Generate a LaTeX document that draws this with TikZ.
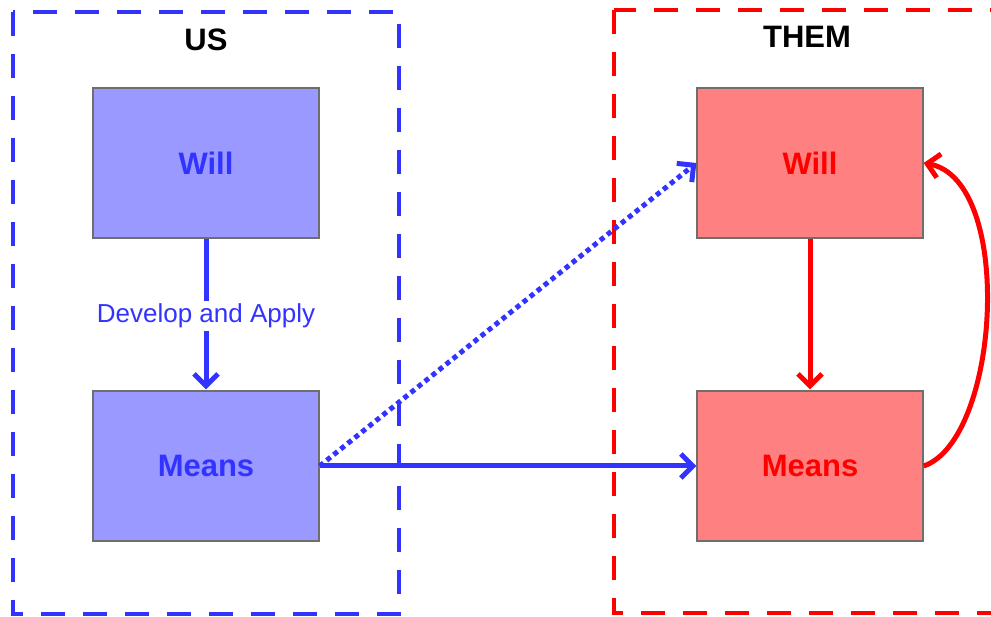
\documentclass[tikz,border=0pt]{standalone}
\usepackage{fontspec}
\setmainfont{Liberation Sans}
\usetikzlibrary{arrows.meta}

\definecolor{usblue}{RGB}{51,51,255}
\definecolor{usfill}{RGB}{153,153,255}
\definecolor{themred}{RGB}{255,0,0}
\definecolor{themfill}{RGB}{255,128,128}
\definecolor{boxedge}{RGB}{110,110,110}

\tikzset{
  x=1pt, y=-1pt,
  side/.style={line width=4.5pt, dash pattern=on 24pt off 18pt},
  title/.style={font=\bfseries\fontsize{31}{31}\selectfont, text=black},
  block/.style={draw=boxedge, line width=1.3pt, minimum width=226pt,
                minimum height=150pt, inner sep=0pt,
                font=\bfseries\fontsize{31}{31}\selectfont},
  usblock/.style={block, fill=usfill, text=usblue},
  themblock/.style={block, fill=themfill, text=themred},
  tip/.style={-{Straight Barb[length=12pt, width=24pt]}},
  link/.style={tip, line width=5pt},
}

\begin{document}
\begin{tikzpicture}
\useasboundingbox (0,0) rectangle (991,617);

% the two sides
\draw[side, usblue] (13,12) rectangle (399,614);
\draw[side, themred] (614,10) rectangle (1030,613);
\node[title] (us) at (206,40) {US};
\node[title] (them) at (807,37) {THEM};

% blocks
\node[usblock] (uswill) at (206,163) {Will};
\node[usblock] (usmeans) at (206,466) {Means};
\node[themblock] (themwill) at (810,163) {Will};
\node[themblock] (themmeans) at (810,466) {Means};

% our side
\draw[link, usblue, shorten >=1pt] (uswill) -- (usmeans)
  node[pos=0.51, fill=white, inner sep=3pt, text=usblue,
       font=\fontsize{26}{26}\selectfont] (dev) {Develop and Apply};

% influence on them
\draw[link, usblue] (usmeans.east) -- (themmeans.west);
\draw[tip, usblue, line width=5pt, dash pattern=on 5pt off 4pt]
  (usmeans.east) -- (themwill.west);

% their side
\draw[link, themred, shorten >=1pt] (themwill) -- (themmeans);
\draw[link, themred] (themmeans.east) .. controls (1000,440) and (1015,180) .. (themwill.east);
\end{tikzpicture}
\end{document}
